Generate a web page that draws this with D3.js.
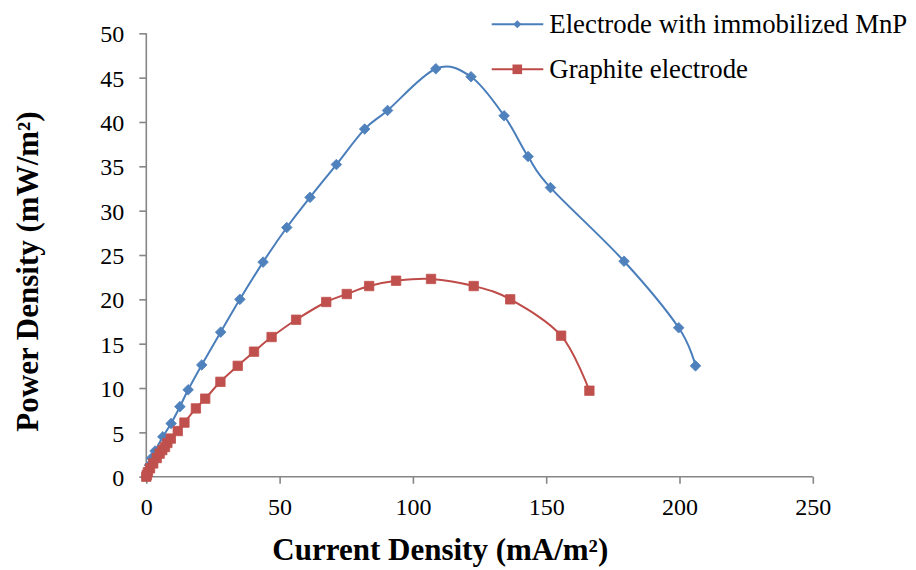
<!DOCTYPE html>
<html>
<head>
<meta charset="utf-8">
<script src="https://cdn.jsdelivr.net/npm/d3@7"></script>
<style>
  html, body { margin: 0; padding: 0; background: #fff; }
  svg { display: block; }
</style>
</head>
<body>
<svg id="chart" width="916" height="570"></svg>
<script>
// ---- data ----
const seriesNames = ["Electrode with immobilized MnP", "Graphite electrode"];

const mnpCurrent = [0, 0.5, 1.2, 2.0, 3.3, 6.2, 9.3, 12.6, 15.7, 20.8, 27.9, 35.1, 43.8, 52.7, 61.4, 71.3, 81.9, 90.5, 108.6, 121.8, 134.2, 143.2, 151.6, 179.2, 199.7, 206.0];
const mnpPower   = [0, 0.5, 1.3, 2.1, 2.9, 4.5, 6.0, 7.9, 9.8, 12.6, 16.3, 20.0, 24.2, 28.1, 31.5, 35.2, 39.2, 41.3, 46.0, 45.1, 40.7, 36.1, 32.6, 24.3, 16.8, 12.5];

const graphiteCurrent = [0, 0.2, 0.6, 1.4, 2.6, 3.9, 5.0, 6.0, 7.0, 7.9, 9.2, 11.8, 14.3, 18.6, 22.1, 27.8, 34.3, 40.4, 47.0, 56.2, 67.5, 75.2, 83.6, 93.7, 106.8, 122.8, 136.5, 155.6, 166.2];
const graphitePower   = [0, 0.2, 0.5, 0.95, 1.5, 2.1, 2.6, 3.0, 3.35, 3.8, 4.3, 5.15, 6.1, 7.7, 8.8, 10.7, 12.5, 14.1, 15.75, 17.7, 19.7, 20.6, 21.5, 22.1, 22.3, 21.5, 20.0, 15.9, 9.7];

const xTicks = [0, 50, 100, 150, 200, 250];
const yTicks = [0, 5, 10, 15, 20, 25, 30, 35, 40, 45, 50];
const xTitle = "Current Density (mA/m²)";
const yTitle = "Power Density (mW/m²)";

// ---- layout ----
const svg = d3.select("#chart");
const x = d3.scaleLinear().domain([0, 250]).range([146.3, 812.8]);
const y = d3.scaleLinear().domain([0, 50]).range([476.7, 33.3]);

const axisColor = "#868686";
const tickFont = "'Liberation Serif', 'Times New Roman', serif";

svg.append("rect").attr("width", 916).attr("height", 570).attr("fill", "#fff");

// y axis
const gy = svg.append("g").attr("transform", `translate(${x(0)},0)`)
  .call(d3.axisLeft(y).tickValues(yTicks).tickSize(7).tickPadding(15).tickFormat(d3.format("d")));
// x axis
const gx = svg.append("g").attr("transform", `translate(0,${y(0)})`)
  .call(d3.axisBottom(x).tickValues(xTicks).tickSize(7).tickPadding(15).tickFormat(d3.format("d")));

[gx, gy].forEach(g => {
  g.select(".domain").attr("stroke", axisColor).attr("stroke-width", 1.6);
  g.selectAll(".tick line").attr("stroke", axisColor).attr("stroke-width", 1.6);
  g.selectAll(".tick text").attr("fill", "#000").attr("font-family", tickFont).attr("font-size", 24);
});
gy.selectAll(".tick text").attr("dy", "0.36em");
gx.selectAll(".tick text").attr("dy", "0.7em");
gy.select(".domain").attr("d", `M0,${y(0)}V${y(50)}`);
gx.select(".domain").attr("d", `M${x(0)},0H${x(250)}`);

// ---- series ----
const series = [
  { name: seriesNames[0], xs: mnpCurrent, ys: mnpPower, line: "#4A7EBB", fill: "#4F81BD", marker: "diamond" },
  { name: seriesNames[1], xs: graphiteCurrent, ys: graphitePower, line: "#BE4B48", fill: "#C0504D", marker: "square" }
];

const lineGen = d3.line().x(d => x(d[0])).y(d => y(d[1])).curve(d3.curveCardinal.tension(0));

function markerPath(type, s) {
  if (type === "diamond") return `M0,${-s}L${s},0L0,${s}L${-s},0Z`;
  return `M${-s},${-s}H${s}V${s}H${-s}Z`;
}

series.forEach(s => {
  const pts = s.xs.map((v, i) => [v, s.ys[i]]);
  const g = svg.append("g");
  g.append("path").attr("d", lineGen(pts)).attr("fill", "none")
    .attr("stroke", s.line).attr("stroke-width", 2);
  g.selectAll("path.mk").data(pts).enter().append("path").attr("class", "mk")
    .attr("transform", d => `translate(${x(d[0])},${y(d[1])})`)
    .attr("d", markerPath(s.marker, s.marker === "diamond" ? 5.3 : 4.7))
    .attr("fill", s.fill).attr("stroke", s.fill).attr("stroke-width", 0.8);
});

// ---- legend ----
const legend = svg.append("g");
const legendY = [24.3, 69.3];
series.forEach((s, i) => {
  const ly = legendY[i];
  legend.append("line").attr("x1", 491.7).attr("x2", 543.3).attr("y1", ly).attr("y2", ly)
    .attr("stroke", s.line).attr("stroke-width", 2);
  legend.append("path").attr("transform", `translate(517.3,${ly})`)
    .attr("d", markerPath(s.marker, s.marker === "diamond" ? 4 : 4.8))
    .attr("fill", s.fill);
  legend.append("text").attr("x", 549.3).attr("y", ly + 8.2)
    .attr("font-family", tickFont).attr("font-size", 26.8).attr("fill", "#000")
    .text(s.name);
});

// ---- axis titles ----
svg.append("text").attr("x", 440.3).attr("y", 560).attr("text-anchor", "middle")
  .attr("font-family", tickFont).attr("font-weight", "bold").attr("font-size", 31)
  .text(xTitle);
svg.append("text").attr("transform", "rotate(-90)").attr("x", -271.5).attr("y", 37.5)
  .attr("text-anchor", "middle")
  .attr("font-family", tickFont).attr("font-weight", "bold").attr("font-size", 31)
  .text(yTitle);
</script>
</body>
</html>
